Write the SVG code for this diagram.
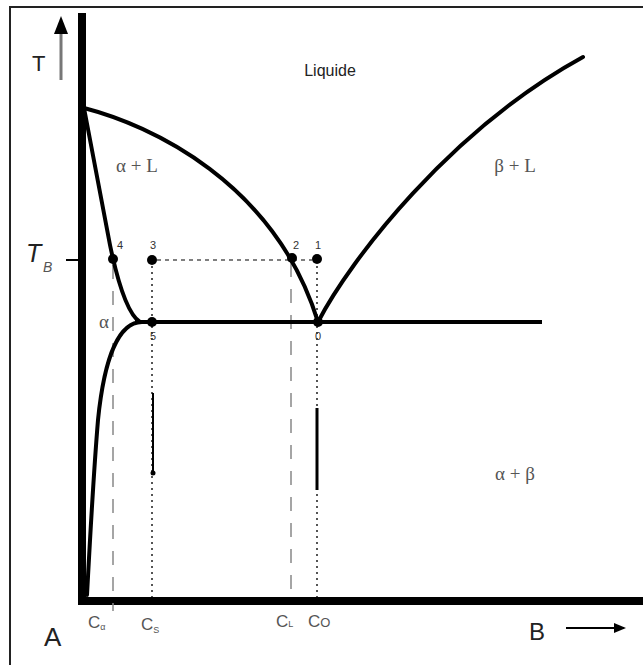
<svg xmlns="http://www.w3.org/2000/svg" width="643" height="665" viewBox="0 0 643 665">
<style>
.curve{fill:none;stroke:#000;stroke-width:4;stroke-linecap:round}
.axis{fill:none;stroke:#000;stroke-width:8}
.dot{fill:#000}
.num{font-family:"Liberation Sans",Arial,sans-serif;font-size:11px;fill:#333;text-anchor:middle}
.phase{font-family:"Liberation Serif","Times New Roman",serif;font-size:19px;fill:#555;text-anchor:middle}
.lbl{font-family:"Liberation Sans",Arial,sans-serif;fill:#222}
.sub{font-family:"Liberation Sans",Arial,sans-serif;fill:#555}
.dotted{stroke:#555;stroke-width:2;stroke-dasharray:2,4;fill:none}
.dashed{stroke:#888;stroke-width:1.5;stroke-dasharray:14,12;fill:none}
</style>
<defs>
<marker id="ah" markerWidth="12" markerHeight="10" refX="10" refY="5" orient="auto" markerUnits="userSpaceOnUse"><path d="M0,0 L12,5 L0,10 z" fill="#000"/></marker>
</defs>
<rect x="0" y="0" width="643" height="665" fill="#fff"/>
<rect x="10" y="7" width="660" height="670" fill="none" stroke="#222" stroke-width="2"/>

<g id="axes">
<line class="axis" x1="82" y1="13" x2="82" y2="604"/>
<line class="axis" x1="78" y1="601" x2="643" y2="601"/>
<line x1="66" y1="260" x2="80" y2="260" stroke="#000" stroke-width="2"/>
<line x1="61" y1="80" x2="61" y2="30" stroke="#777" stroke-width="3"/>
<polygon points="61,16 54,34 68,34" fill="#000"/>
<text class="lbl" x="32" y="71" font-size="22">T</text>
<text class="lbl" x="26" y="262" font-size="25" font-style="italic">T</text>
<text class="sub" x="43" y="272" font-size="14" font-style="italic">B</text>
<text class="lbl" x="44" y="646" font-size="26">A</text>
<text class="lbl" x="529" y="640" font-size="24">B</text>
<line x1="566" y1="628" x2="624" y2="628" stroke="#000" stroke-width="2" marker-end="url(#ah)"/>
</g>

<g id="connectors">
<line class="dashed" x1="113" y1="265" x2="113" y2="611"/>
<line class="dashed" x1="291" y1="263" x2="291" y2="600"/>
<line x1="157" y1="260" x2="312" y2="260" stroke="#555" stroke-width="1.5" stroke-dasharray="4,4"/>
<line class="dotted" x1="152" y1="266" x2="152" y2="597"/>
<line class="dotted" x1="317" y1="266" x2="317" y2="597"/>
<line x1="153" y1="393" x2="153" y2="473" stroke="#000" stroke-width="2"/>
<circle cx="153" cy="473" r="2.5" class="dot"/>
<line x1="317" y1="408" x2="317" y2="490" stroke="#000" stroke-width="3"/>
</g>

<g id="curves">
<path class="curve" d="M84,108 C150,125 275,182 318,322"/>
<path class="curve" d="M318,322 C350,260 450,130 583,57"/>
<path class="curve" d="M84,108 L110,245 Q124,312 140,322"/>
<path class="curve" d="M142,322 C118,322 104,360 98,420 C93,480 90,540 87,595"/>
<line x1="135" y1="322" x2="542" y2="322" stroke="#000" stroke-width="4"/>
</g>

<g id="points">
<circle class="dot" cx="113" cy="259" r="5"/>
<circle class="dot" cx="152" cy="260" r="5"/>
<circle class="dot" cx="292" cy="258" r="5"/>
<circle class="dot" cx="317" cy="259" r="5"/>
<circle class="dot" cx="152" cy="322" r="5"/>
<circle class="dot" cx="318" cy="322" r="5"/>
<text class="num" x="120" y="249">4</text>
<text class="num" x="153" y="249">3</text>
<text class="num" x="296" y="249">2</text>
<text class="num" x="318" y="249">1</text>
<text class="num" x="153" y="340">5</text>
<text class="num" x="318" y="340">0</text>
</g>

<g id="labels">
<text class="lbl" x="330" y="76" font-size="16" text-anchor="middle">Liquide</text>
<text class="phase" x="137" y="172">α + L</text>
<text class="phase" x="515" y="172">β + L</text>
<text class="phase" x="515" y="480">α + β</text>
<text class="phase" x="104" y="328">α</text>
<text class="sub" x="88" y="628" font-size="17">C<tspan font-size="9" dy="2">α</tspan></text>
<text class="sub" x="141" y="630" font-size="17">C<tspan font-size="9" dy="3">S</tspan></text>
<text class="sub" x="276" y="627" font-size="17">C<tspan font-size="9">L</tspan></text>
<text class="sub" x="308" y="627" font-size="17">C<tspan font-size="13">O</tspan></text>
</g>
</svg>
